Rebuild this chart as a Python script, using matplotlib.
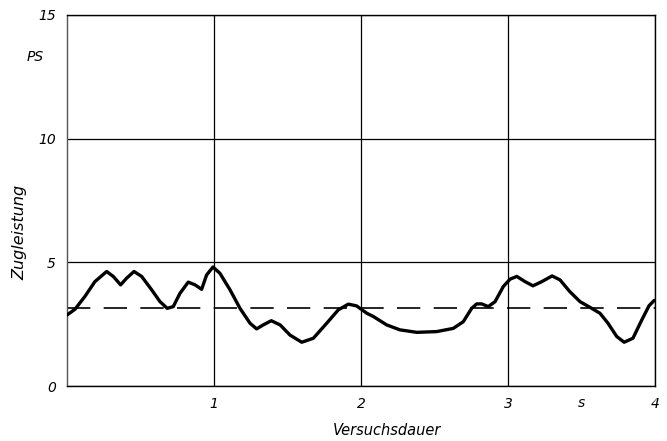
import matplotlib
matplotlib.use('Agg')
import matplotlib.pyplot as plt

# Zugleistung (PS) ueber Versuchsdauer (s)
t = [0.0, 0.054, 0.122, 0.19, 0.27, 0.315, 0.365, 0.406, 0.456, 0.508, 0.576, 0.633,
     0.682, 0.723, 0.769, 0.825, 0.871, 0.916, 0.95, 0.993, 1.04, 1.109, 1.177, 1.245,
     1.29, 1.335, 1.39, 1.45, 1.517, 1.597, 1.676, 1.767, 1.846, 1.914, 1.97, 2.04,
     2.084, 2.175, 2.265, 2.38, 2.515, 2.628, 2.696, 2.753, 2.787, 2.821, 2.866, 2.912,
     2.968, 3.014, 3.06, 3.116, 3.17, 3.23, 3.30, 3.354, 3.42, 3.49, 3.558, 3.626,
     3.68, 3.74, 3.79, 3.85, 3.91, 3.96, 3.995]
leistung = [2.87, 3.10, 3.62, 4.22, 4.63, 4.43, 4.09, 4.36, 4.63, 4.43, 3.89, 3.41,
            3.14, 3.21, 3.75, 4.20, 4.09, 3.91, 4.49, 4.81, 4.56, 3.89, 3.14, 2.54,
            2.31, 2.47, 2.64, 2.47, 2.06, 1.77, 1.93, 2.54, 3.08, 3.31, 3.24, 2.94,
            2.81, 2.47, 2.27, 2.17, 2.20, 2.33, 2.60, 3.14, 3.32, 3.32, 3.21, 3.41,
            4.02, 4.32, 4.43, 4.22, 4.05, 4.22, 4.45, 4.29, 3.82, 3.41, 3.18, 2.94,
            2.54, 2.00, 1.77, 1.93, 2.67, 3.25, 3.46]
mittelwert = 3.15

x_ticks = [1, 2, 3, 4]
y_ticks = [0, 5, 10, 15]

fig = plt.figure(figsize=(6.67, 4.41), dpi=100)
ax = fig.add_axes([0.1004, 0.1247, 0.8816, 0.8413])

ax.plot(t, leistung, color='black', linewidth=2.4, solid_joinstyle='round', solid_capstyle='round', zorder=3)
ax.axhline(mittelwert, color='black', linewidth=1.2, dashes=(14, 8), zorder=2)

ax.set_xlim(0, 4)
ax.set_ylim(0, 15)
ax.set_xticks(x_ticks)
ax.set_yticks(y_ticks)
ax.set_xticklabels([str(v) for v in x_ticks], fontsize=10, style='italic')
ax.set_yticklabels([str(v) for v in y_ticks], fontsize=10, style='italic')
ax.tick_params(length=0, pad=8)
ax.grid(True, color='black', linewidth=0.9)

for s in ax.spines.values():
    s.set_linewidth(1.0)
ax.spines['left'].set_color('#555555')

ax.text(-0.04, 13.3, 'PS', transform=ax.get_yaxis_transform(), fontsize=10, style='italic', ha='right', va='center')
ax.text(3.5, -0.027, 's', transform=ax.get_xaxis_transform(), fontsize=10, style='italic', ha='center', va='top')

ax.set_xlabel('Versuchsdauer', fontsize=10.5, style='italic')
ax.set_ylabel('Zugleistung', fontsize=11.5, style='italic')
ax.xaxis.set_label_coords(0.544, -0.1)
ax.yaxis.set_label_coords(-0.068, 0.415)

fig.savefig('out.png', dpi=100)
